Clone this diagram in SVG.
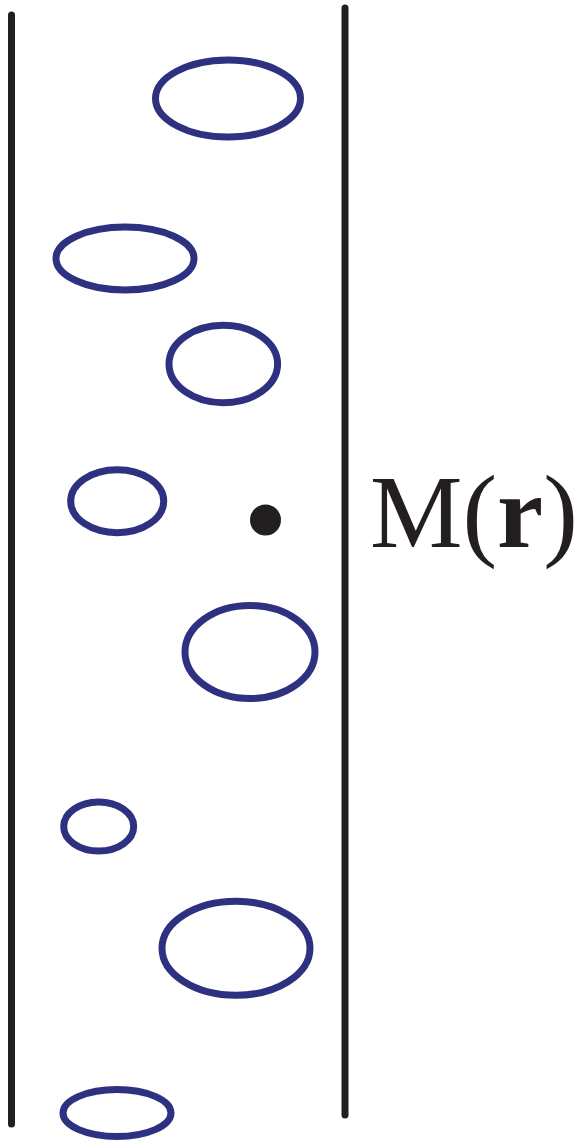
<svg xmlns="http://www.w3.org/2000/svg" width="580" height="1141" viewBox="0 0 580 1141">
<style>
.wall{stroke:#231F20;stroke-width:7;stroke-linecap:round;fill:none}
.bubble{fill:none;stroke:#2E3180;stroke-width:7}
.lbl{font-family:"Liberation Serif","Times New Roman",serif;font-size:104px;fill:#231F20}
</style>
<rect width="580" height="1141" fill="#fff"/>
<g id="walls">
<line class="wall" x1="11.5" y1="15" x2="11.5" y2="1124"/>
<line class="wall" x1="345" y1="8" x2="345" y2="1115"/>
</g>
<g id="bubbles">
<ellipse class="bubble" cx="228" cy="98.5" rx="72.5" ry="38.5"/>
<ellipse class="bubble" cx="125" cy="258.5" rx="69" ry="31.5"/>
<ellipse class="bubble" cx="223.3" cy="364" rx="54.3" ry="38.7"/>
<ellipse class="bubble" cx="117.2" cy="501.2" rx="46.5" ry="31.5"/>
<ellipse class="bubble" cx="250" cy="652" rx="65" ry="46.5"/>
<ellipse class="bubble" cx="98.7" cy="826.5" rx="35" ry="24.5"/>
<ellipse class="bubble" cx="236" cy="948.3" rx="74" ry="47"/>
<ellipse class="bubble" cx="117" cy="1113" rx="54" ry="23.5"/>
</g>
<g id="point">
<circle cx="265.5" cy="520" r="15.5" fill="#231F20"/>
<text class="lbl" x="370" y="547">M(<tspan font-weight="bold">r</tspan>)</text>
</g>
</svg>
